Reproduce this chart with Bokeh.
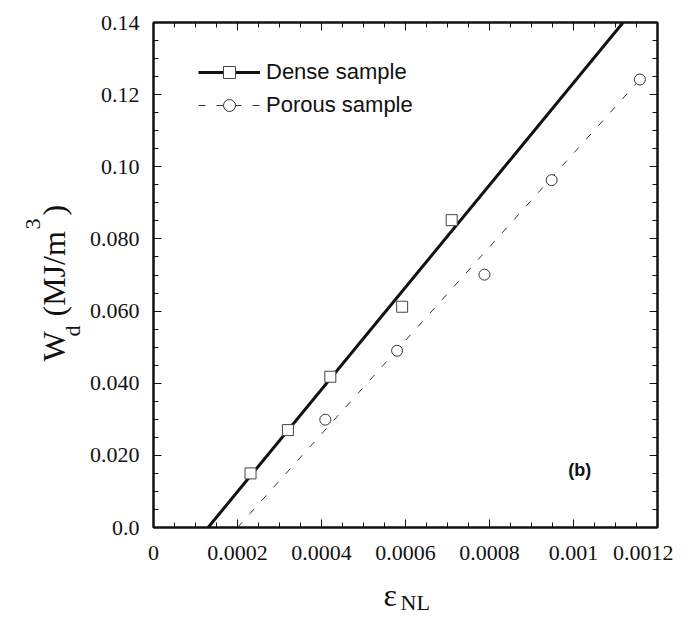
import math
from bokeh.plotting import figure
from bokeh.layouts import row, column
from bokeh.models import (Range1d, FixedTicker, LinearAxis, Label, Legend, LegendItem)
from bokeh.core.properties import value
from bokeh.embed import file_html
from bokeh.resources import INLINE

# ---- data ----
dense_x = [0.000231, 0.000320, 0.000421, 0.000592, 0.000710]
dense_y = [0.0150, 0.0270, 0.0418, 0.0612, 0.0852]
porous_x = [0.000409, 0.000580, 0.000788, 0.000948, 0.001158]
porous_y = [0.0299, 0.0490, 0.0701, 0.0963, 0.1242]

# fitted lines (end points)
dense_fit_x = [0.000130, 0.001118]
dense_fit_y = [0.0, 0.14]
porous_fit_x = [0.000200, 0.001158]
porous_fit_y = [0.0, 0.1242]

x_ticks = [0.0, 0.0002, 0.0004, 0.0006, 0.0008, 0.001, 0.0012]
x_tick_labels = ["0", "0.0002", "0.0004", "0.0006", "0.0008", "0.001", "0.0012"]
x_minor = [i * 0.00005 for i in range(0, 25)]
y_ticks = [0.0, 0.02, 0.04, 0.06, 0.08, 0.10, 0.12, 0.14]
y_tick_labels = ["0.0", "0.020", "0.040", "0.060", "0.080", "0.10", "0.12", "0.14"]
y_minor = [i * 0.005 for i in range(0, 29)]

legend_labels = ["Dense sample", "Porous sample"]
y_title_parts = ["W", "d", "(MJ/m", "3", ")"]
x_title_parts = ["\u03b5", "NL"]

SERIF = "Liberation Serif"
SANS = "Liberation Sans"
INK = "#111111"

LEFT_W = 86
MAIN_BL, MAIN_BT, MAIN_BR, MAIN_BB = 67, 22, 16, 45
FW, FH = 504, 505
MAIN_H = MAIN_BT + FH + MAIN_BB
MAIN_W = MAIN_BL + FW + MAIN_BR
FRAME_BOTTOM = MAIN_BT + FH
BOT_H = 45

p = figure(width=MAIN_W, height=MAIN_H, output_backend="svg",
           toolbar_location=None, title=None,
           x_range=Range1d(0, 0.0012), y_range=Range1d(0, 0.14),
           min_border_left=MAIN_BL, min_border_top=MAIN_BT,
           min_border_right=MAIN_BR, min_border_bottom=MAIN_BB)
p.grid.visible = False
p.outline_line_color = INK
p.outline_line_width = 2
p.background_fill_color = "white"
p.border_fill_color = "white"

def style_axis(ax, ticks, minor, labels, show_labels):
    ax.ticker = FixedTicker(ticks=ticks, minor_ticks=minor)
    ax.axis_line_color = INK
    ax.axis_line_width = 2
    ax.major_tick_in = 8
    ax.major_tick_out = 0
    ax.minor_tick_in = 5
    ax.minor_tick_out = 0
    ax.major_tick_line_color = INK
    ax.minor_tick_line_color = INK
    ax.major_tick_line_width = 1
    ax.minor_tick_line_width = 1
    ax.major_label_text_font = SERIF
    ax.major_label_text_color = INK
    if show_labels:
        ax.major_label_overrides = {t: l for t, l in zip(ticks, labels)}
        ax.major_label_text_font_size = "22px"
    else:
        ax.major_label_overrides = {t: "" for t in ticks}
        ax.major_label_text_font_size = "2px"
        ax.major_label_standoff = 0

xa = p.xaxis[0]
ya = p.yaxis[0]
style_axis(xa, x_ticks, x_minor, x_tick_labels, True)
style_axis(ya, y_ticks, y_minor, y_tick_labels, True)
xa.major_label_standoff = 18
ya.major_label_standoff = 14

top = LinearAxis()
right = LinearAxis()
style_axis(top, x_ticks, x_minor, x_tick_labels, False)
style_axis(right, y_ticks, y_minor, y_tick_labels, False)
p.add_layout(top, "above")
p.add_layout(right, "right")

# ---- glyphs ----
l1 = p.line(dense_fit_x, dense_fit_y, line_color=INK, line_width=3)
s1 = p.scatter(dense_x, dense_y, marker="square", size=11, fill_color="white",
               line_color="#444444", line_width=1)
l2 = p.line(porous_fit_x, porous_fit_y, line_color="#333333", line_width=1,
            line_dash="7 11")
s2 = p.scatter(porous_x, porous_y, marker="circle", size=11, fill_color="white",
               line_color="#333333", line_width=1)

legend = Legend(items=[LegendItem(label=legend_labels[0], renderers=[l1, s1]),
                       LegendItem(label=legend_labels[1], renderers=[l2, s2])],
                location=(45, 407), glyph_width=62, glyph_height=30,
                label_height=30, spacing=3, padding=0, margin=0,
                label_standoff=6, border_line_color=None,
                background_fill_alpha=0,
                label_text_font=SANS, label_text_font_size="22px",
                label_text_color=INK)
p.add_layout(legend, "center")

# panel tag
p.add_layout(Label(x=0.001015, y=0.0159, text="(b)", text_font=SANS,
                   text_font_size="18px", text_font_style="bold",
                   text_align="center", text_baseline="middle",
                   text_color=INK))

def text_panel(w, h, yr):
    f = figure(width=w, height=h, output_backend="svg", toolbar_location=None,
               title=None,
               x_range=Range1d(0, w), y_range=Range1d(0, yr),
               x_axis_type=None, y_axis_type=None, min_border=0)
    f.grid.visible = False
    f.outline_line_color = None
    f.background_fill_color = "white"
    f.border_fill_color = "white"
    return f

# ---- y axis title: W_d (MJ/m^3), rotated ----
# the row aligns this panel's frame with the main frame (image y 22..527)
left = text_panel(LEFT_W, MAIN_H, FH)
rot = math.pi / 2
ly_x = [53, 72, 53, 32, 53]
ly_y = [FRAME_BOTTOM - 361, FRAME_BOTTOM - 336, FRAME_BOTTOM - 316,
        FRAME_BOTTOM - 229, FRAME_BOTTOM - 215]
ly_size = ["32px", "22px", "32px", "22px", "32px"]
left.text(x=ly_x, y=ly_y, text=y_title_parts, angle=rot,
          text_font=value(SERIF), text_font_size=ly_size,
          text_align="left", text_baseline="alphabetic", text_color=INK)

# ---- x axis title: epsilon_NL ----
bottom = text_panel(LEFT_W + MAIN_W, BOT_H, BOT_H)
bx = [383, 400]
by = [BOT_H - (594 - MAIN_H), BOT_H - (602 - MAIN_H)]
bsize = ["32px", "22px"]
bottom.text(x=bx, y=by, text=x_title_parts, text_font=value(SERIF),
            text_font_size=bsize, text_align="left",
            text_baseline="alphabetic", text_color=INK)

layout = column(row(left, p, spacing=0), bottom, spacing=0)
open("out.html", "w").write(file_html(layout, INLINE))
